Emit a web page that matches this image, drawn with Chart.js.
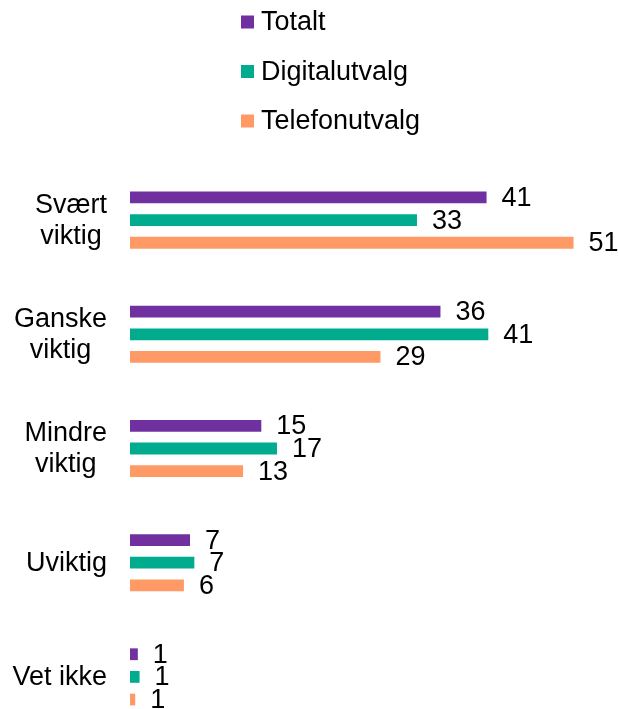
<!DOCTYPE html>
<html><head><meta charset="utf-8">
<script src="https://cdn.jsdelivr.net/npm/chart.js@4"></script>
<style>html,body{margin:0;padding:0;overflow:hidden;background:#fff}
#wrap{position:relative;width:618px;height:740px}</style>
</head><body><div id="wrap"><canvas id="c"></canvas></div>
<script>
const categories = [["Svært","viktig"],["Ganske","viktig"],["Mindre","viktig"],["Uviktig"],["Vet ikke"]];
const seriesNames = ["Totalt","Digitalutvalg","Telefonutvalg"];
const totalt = [41, 35.7, 15.1, 6.9, 0.9];
const digital = [33, 41.2, 16.9, 7.4, 1.1];
const telefon = [51, 28.8, 13.0, 6.2, 0.6];
const colors = ["#7030A0", "#00AB8E", "#FF9966"];
const FONT = "'Liberation Sans', Arial, sans-serif";
const FSIZE = 27;

const dataLabels = {
  id: 'dataLabels',
  afterDatasetsDraw(chart) {
    const ctx = chart.ctx;
    ctx.save();
    ctx.font = FSIZE + 'px ' + FONT;
    ctx.fillStyle = '#000';
    ctx.textAlign = 'left';
    ctx.textBaseline = 'middle';
    chart.data.datasets.forEach((ds, di) => {
      chart.getDatasetMeta(di).data.forEach((el, i) => {
        ctx.fillText(String(Math.round(ds.data[i])), el.x + 15, el.y + 1);
      });
    });
    ctx.restore();
  }
};

const catLabels = {
  id: 'catLabels',
  afterDraw(chart) {
    const ctx = chart.ctx, ys = chart.scales.y;
    ctx.save();
    ctx.font = FSIZE + 'px ' + FONT;
    ctx.fillStyle = '#000';
    ctx.textAlign = 'center';
    ctx.textBaseline = 'middle';
    const right = chart.chartArea.left - 23;
    chart.data.labels.forEach((lab, i) => {
      const lines = Array.isArray(lab) ? lab : [lab];
      const w = Math.max(...lines.map(l => ctx.measureText(l).width));
      const cx = right - w / 2;
      const y0 = ys.getPixelForValue(i);
      lines.forEach((l, j) => {
        ctx.fillText(l, cx, y0 + 1 + (j - (lines.length - 1) / 2) * 31);
      });
    });
    ctx.restore();
  }
};

const vLegend = {
  id: 'vLegend',
  afterDraw(chart) {
    const ctx = chart.ctx;
    ctx.save();
    ctx.font = FSIZE + 'px ' + FONT;
    ctx.textAlign = 'left';
    ctx.textBaseline = 'middle';
    chart.data.datasets.forEach((ds, i) => {
      const cy = 22 + i * 49.5;
      ctx.fillStyle = ds.backgroundColor;
      ctx.fillRect(241, cy - 6.5, 13, 13);
      ctx.fillStyle = '#000';
      ctx.fillText(ds.label, 261, cy + 1);
    });
    ctx.restore();
  }
};

new Chart(document.getElementById('c'), {
  type: 'bar',
  data: {
    labels: categories,
    datasets: [
      { label: seriesNames[0], data: totalt, backgroundColor: colors[0] },
      { label: seriesNames[1], data: digital, backgroundColor: colors[1] },
      { label: seriesNames[2], data: telefon, backgroundColor: colors[2] }
    ]
  },
  options: {
    indexAxis: 'y',
    responsive: true,
    maintainAspectRatio: false,
    animation: false,
    layout: { padding: { top: 163, bottom: 6, left: 130, right: 1 } },
    datasets: { bar: { categoryPercentage: 0.595, barPercentage: 0.52 } },
    scales: {
      x: { display: false, min: 0, max: 56 },
      y: { display: false }
    },
    plugins: { legend: { display: false }, tooltip: { enabled: false } }
  },
  plugins: [dataLabels, catLabels, vLegend]
});
</script>
</body></html>
